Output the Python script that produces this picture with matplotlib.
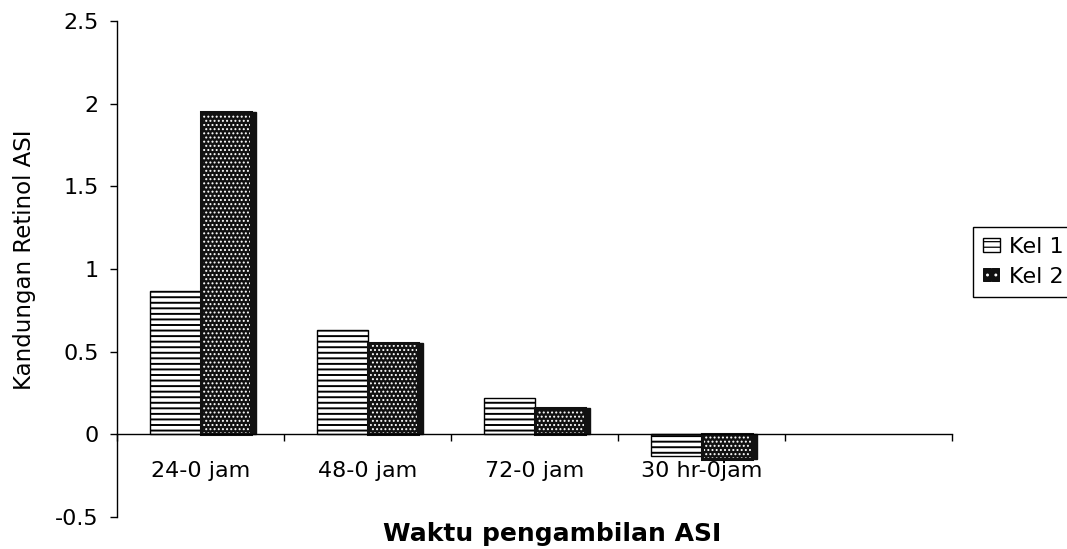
import numpy as np
import matplotlib
matplotlib.use("Agg")
import matplotlib.pyplot as plt
from matplotlib.patches import Patch

# Retinol content of breast milk per sampling interval
categories = ["24-0 jam", "48-0 jam", "72-0 jam", "30 hr-0jam"]
kel1 = [0.87, 0.63, 0.22, -0.13]
kel2 = [1.95, 0.55, 0.16, -0.15]
series_names = ["Kel 1", "Kel 2"]
yticks = [-0.5, 0, 0.5, 1, 1.5, 2, 2.5]
n_slots = 5  # the chart keeps one empty slot on the right

plt.rcParams["font.family"] = ["DejaVu Sans"]
plt.rcParams["axes.unicode_minus"] = False

fig = plt.figure(figsize=(10.67, 5.49), dpi=100)
ax = fig.add_axes([0.1097, 0.0583, 0.7826, 0.9034])

x = np.arange(len(categories))
w = 0.3

# Kel 1: white bars with horizontal stripes
plt.rcParams["hatch.linewidth"] = 1.4
ax.bar(x - w / 2, kel1, w, facecolor="white", edgecolor="black",
       hatch="---", linewidth=1.0, zorder=3)
kel1_handle = Patch(facecolor="white", edgecolor="black", hatch="---",
                    linewidth=1.0)

# Kel 2: dark shadow, black body with white dots, black outline
ax.bar(x + w / 2 + 0.03, kel2, w, facecolor="#111111", edgecolor="#111111",
       linewidth=1.0, zorder=2)
plt.rcParams["hatch.linewidth"] = 0.9
ax.bar(x + w / 2, kel2, w, facecolor="#111111", edgecolor="white",
       hatch="....", linewidth=0, zorder=3)
kel2_handle = Patch(facecolor="#111111", edgecolor="white", hatch="..",
                    linewidth=0)
ax.bar(x + w / 2, kel2, w, fill=False, edgecolor="#111111",
       linewidth=2.2, zorder=4)

ax.set_xlim(-0.5, n_slots - 0.5)
ax.set_ylim(-0.5, 2.5)

# category axis crosses at zero
ax.spines["top"].set_visible(False)
ax.spines["right"].set_visible(False)
ax.spines["bottom"].set_position(("data", 0))
ax.spines["bottom"].set_zorder(5)
for s in ("left", "bottom"):
    ax.spines[s].set_linewidth(1.0)

ax.set_xticks(x)
ax.set_xticklabels(categories, fontsize=16)
ax.set_xticks(np.arange(n_slots + 1) - 0.5, minor=True)
ax.tick_params(axis="x", which="major", length=0, pad=19)
ax.tick_params(axis="x", which="minor", direction="out", length=5, width=1.0)

ax.set_yticks(yticks)
ax.set_yticklabels([f"{v:g}" for v in yticks], fontsize=16)
ax.tick_params(axis="y", direction="out", length=5, width=1.0, pad=8)

fig.text(0.0234, 0.526, "Kandungan Retinol ASI", rotation=90,
         ha="center", va="center", fontsize=16.5)
fig.text(0.5178, 0.027, "Waktu pengambilan ASI", ha="center", va="center",
         fontsize=18, fontweight="bold")

leg = fig.legend([kel1_handle, kel2_handle], series_names, loc="upper left",
                 bbox_to_anchor=(0.912, 0.5865), fontsize=16,
                 handlelength=0.75, handleheight=0.6, handletextpad=0.4,
                 borderpad=0.45, labelspacing=0.45, borderaxespad=0,
                 fancybox=False, framealpha=1, edgecolor="black")
leg.get_frame().set_linewidth(1.0)

fig.savefig("out.png", dpi=100)
